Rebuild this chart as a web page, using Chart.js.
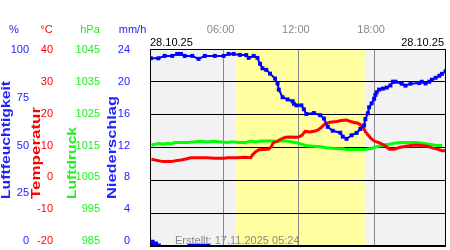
<!DOCTYPE html>
<html>
<head>
<meta charset="utf-8">
<script src="https://cdn.jsdelivr.net/npm/chart.js@4/dist/chart.umd.min.js"></script>
<style>
  body { margin: 0; background: #fff; }
  #wrap { width: 450px; height: 250px; }
</style>
</head>
<body>
<div id="wrap"><canvas id="wetter"></canvas></div>
<script>
// hours of the day (x) and readings
let humHours = [0.2, 0.8, 1.3, 1.9, 2.3, 2.6, 2.9, 3.5, 4.0, 4.5, 5.3, 6.0, 6.4, 6.8, 7.3, 7.8, 8.0, 8.4, 8.7, 8.9,
  9.1, 9.4, 9.7, 10.1, 10.3, 10.4, 10.7, 11.1, 11.5, 11.6, 11.8, 12.2, 12.4, 12.6, 13.2, 13.7, 14.0, 14.3, 14.7, 15.3,
  15.5, 15.8, 16.2, 16.6, 16.9, 17.2, 17.3, 17.5, 17.6, 17.8, 18.0, 18.1, 18.2, 18.4, 18.7, 19.0, 19.3, 19.5, 19.7, 20.2,
  20.5, 20.9, 21.6, 21.8, 22.1, 22.4, 22.6, 22.9, 23.2, 23.4, 23.7];
let humidity = [95.3, 95.3, 96.5, 96.5, 97.5, 97.5, 96.5, 96.5, 95.0, 96.5, 96.5, 96.5, 97.5, 97.5, 97.0, 96.9, 95.5, 96.5, 95.5, 92.5,
  90.2, 89.4, 87.5, 85.0, 82.5, 79.4, 75.5, 74.4, 73.5, 72.2, 71.4, 71.4, 69.4, 67.0, 67.5, 66.4, 64.7, 60.5, 58.5, 57.5,
  55.5, 54.4, 56.2, 57.4, 59.4, 61.2, 64.4, 67.4, 70.4, 72.4, 74.7, 76.7, 78.0, 79.4, 79.9, 80.4, 81.5, 83.4, 83.4, 82.4,
  81.4, 82.4, 82.7, 83.4, 82.5, 83.4, 84.4, 85.4, 86.4, 87.4, 88.7];

let tempHours = [0.24, 0.77, 1.16, 1.82, 2.21, 2.61, 3.0, 3.39, 3.92, 4.71, 5.24, 6.03, 6.29, 7.08, 7.77, 8.16, 8.29, 8.56, 8.82, 9.21,
  9.61, 9.82, 9.95, 10.26, 10.66, 10.93, 11.32, 11.72, 11.98, 12.24, 12.5, 12.9, 13.29, 13.56, 13.82, 14.08, 14.48, 15.0, 15.39, 15.79,
  15.92, 16.32, 16.71, 16.97, 17.16, 17.29, 17.5, 17.76, 18.03, 18.43, 18.82, 19.22, 19.61, 20.0, 20.53, 21.06, 21.58, 22.24, 22.63, 23.03,
  23.42, 23.68];
let temperature = [6.4, 6.0, 5.7, 5.7, 6.0, 6.2, 6.5, 6.9, 6.9, 6.9, 6.7, 6.7, 6.9, 6.9, 7.0, 6.9, 7.7, 8.7, 9.3, 9.4,
  9.5, 10.4, 11.4, 11.9, 12.7, 13.1, 13.2, 13.1, 13.2, 13.7, 14.9, 14.7, 15.0, 15.4, 16.2, 17.2, 17.7, 17.9, 18.2, 18.4,
  18.2, 17.7, 17.4, 16.7, 15.9, 14.9, 13.9, 12.7, 11.9, 11.4, 10.7, 9.5, 9.5, 10.0, 10.4, 10.7, 10.7, 10.4, 9.9, 9.5,
  9.0, 9.0];

let presHours = [0.24, 0.5, 0.9, 1.16, 1.56, 1.82, 2.08, 2.61, 3.13, 3.66, 4.18, 4.71, 5.24, 5.76, 6.29, 6.55, 6.82, 7.22, 7.77, 8.16,
  8.56, 8.95, 9.61, 10.0, 10.26, 10.53, 11.05, 11.45, 11.84, 12.24, 12.63, 13.16, 13.69, 14.21, 14.87, 15.53, 15.79, 16.58, 17.24, 17.76,
  18.16, 18.69, 19.22, 19.74, 20.27, 20.79, 21.32, 21.84, 22.37, 22.89, 23.42];
let pressure = [1015.7, 1016.0, 1016.2, 1016.0, 1016.3, 1016.1, 1016.5, 1016.5, 1016.5, 1016.7, 1016.9, 1016.7, 1016.9, 1016.7, 1016.5, 1016.7, 1016.7, 1016.5, 1016.5, 1017.0,
  1016.7, 1017.0, 1017.0, 1017.0, 1016.7, 1017.0, 1017.0, 1016.7, 1016.4, 1016.0, 1015.5, 1015.4, 1015.2, 1014.9, 1014.7, 1014.6, 1014.4, 1014.4, 1014.4, 1014.7,
  1015.2, 1015.7, 1016.0, 1016.4, 1016.5, 1016.5, 1016.5, 1016.3, 1016.0, 1015.7, 1015.6];

// rain: each entry holds from rainStart to rainEnd (hours)
let rainStart = [0.13, 0.5, 0.77, 3.13];
let rainEnd = [0.5, 0.77, 1.0, 4.95];
let rain = [0.75, 0.55, 0.3, 0.28];

// axis tick labels
let humTicks = [0, 25, 50, 75, 100];
let tempTicks = [-20, -10, 0, 10, 20, 30, 40];
let presTicks = [985, 995, 1005, 1015, 1025, 1035, 1045];
let rainTicks = [0, 4, 8, 12, 16, 20, 24];
let hourTicks = [6, 12, 18];

let dayLabel = "28.10.25";
let createdLabel = "Erstellt: 17.11.2025 05:24";
let sunrise = 7.0;
let sunset = 17.25;
let xMin = 0.13;
let xMax = 23.73;

const FONT = "Arial, 'Liberation Sans', sans-serif";
Chart.defaults.font.family = FONT;
Chart.defaults.font.size = 11;

function pts(xs, ys) {
    return xs.map(function (x, i) { return { x: x, y: ys[i] }; });
}

function steps(starts, ends, vals) {
    let out = [];
    starts.forEach(function (s, i) {
        out.push({ x: s, y: 0 }, { x: s, y: vals[i] }, { x: ends[i], y: vals[i] }, { x: ends[i], y: 0 });
    });
    return out;
}

function noPad(s) {
    s.paddingTop = 0; s.paddingBottom = 0; s.paddingLeft = 0; s.paddingRight = 0;
}

// label axes: tick text sits slightly inside the plot edges, like the original
function labelAxis(ticks, color, width, pad, weight) {
    let top = ticks[ticks.length - 1], bottom = ticks[0];
    let r = top - bottom;
    return {
        type: "linear", position: "left", weight: weight,
        min: top - 199 * r / 194, max: top + r / 194,
        grid: { display: false, drawTicks: false }, border: { display: false },
        ticks: { color: color, padding: pad, autoSkip: false, callback: function (v) { return String(v); } },
        afterBuildTicks: function (s) { s.ticks = ticks.map(function (v) { return { value: v }; }); },
        afterFit: function (s) { s.width = width; noPad(s); }
    };
}

const decor = {
    id: "decor",
    beforeDraw(chart) {
        const { ctx, chartArea: a, scales } = chart;
        ctx.save();
        ctx.fillStyle = "#f2f2f2";
        ctx.fillRect(a.left, a.top, a.width, a.height);
        let x0 = scales.x.getPixelForValue(sunrise), x1 = scales.x.getPixelForValue(sunset);
        ctx.fillStyle = "#ffffa0";
        ctx.fillRect(x0, a.top, x1 - x0, a.height);
        ctx.restore();
    },
    afterDraw(chart) {
        const { ctx, chartArea: a } = chart;
        ctx.save();
        ctx.strokeStyle = "#000";
        ctx.lineWidth = 1;
        ctx.strokeRect(a.left + 0.5, a.top + 0.5, a.width - 1, a.height - 1);

        ctx.font = "11px " + FONT;
        ctx.textBaseline = "middle";
        ctx.textAlign = "center";
        ctx.fillStyle = "#2222ff"; ctx.fillText("%", 14, 30);
        ctx.fillStyle = "#ff0000"; ctx.fillText("°C", 46.5, 30);
        ctx.fillStyle = "#22ee22"; ctx.fillText("hPa", 90, 30);
        ctx.fillStyle = "#2222ff"; ctx.fillText("mm/h", 132.5, 30);

        ctx.fillStyle = "#000";
        ctx.textAlign = "left"; ctx.fillText(dayLabel, a.left, 43);
        ctx.textAlign = "right"; ctx.fillText(dayLabel, a.right - 2, 43);

        ctx.fillStyle = "#888";
        ctx.textAlign = "left"; ctx.fillText(createdLabel, 175, 240.5);

        vText(ctx, "Luftfeuchtigkeit", 6, 199, "#2222ff", 118);
        vText(ctx, "Temperatur", 36, 199, "#ff0000", 92);
        vText(ctx, "Luftdruck", 72.5, 199, "#22ee22", 72);
        vText(ctx, "Niederschlag", 112.5, 199, "#2222ff", 103);
        ctx.restore();
    }
};

function vText(ctx, text, x, yBottom, color, len) {
    ctx.save();
    ctx.translate(x, yBottom);
    ctx.rotate(-Math.PI / 2);
    ctx.font = "bold 13px " + FONT;
    ctx.fillStyle = color;
    ctx.textAlign = "left";
    ctx.textBaseline = "middle";
    let w = ctx.measureText(text).width;
    ctx.scale(len / w, 1);
    ctx.fillText(text, 0, 0);
    ctx.restore();
}

let ctx1 = document.getElementById("wetter").getContext("2d");
new Chart(ctx1, {
    type: "line",
    data: {
        datasets: [{
            label: "Luftfeuchtigkeit",
            data: pts(humHours, humidity),
            yAxisID: "yH",
            borderColor: "#0000ff", backgroundColor: "#0000ff",
            borderWidth: 2, pointStyle: "rect", pointRadius: 2.8, pointBorderWidth: 0
        }, {
            label: "Temperatur",
            data: pts(tempHours, temperature),
            yAxisID: "yT",
            borderColor: "#ff0000", borderWidth: 3, pointRadius: 0
        }, {
            label: "Luftdruck",
            data: pts(presHours, pressure),
            yAxisID: "yP",
            borderColor: "#00ff00", borderWidth: 3, pointRadius: 0
        }, {
            label: "Niederschlag",
            data: steps(rainStart, rainEnd, rain),
            yAxisID: "yR",
            fill: "origin",
            borderWidth: 0, borderColor: "#0000ff", backgroundColor: "#0000ff", pointRadius: 0
        }]
    },
    options: {
        responsive: true,
        maintainAspectRatio: false,
        animation: false,
        layout: { padding: { top: 0, left: 0, right: 1, bottom: 1 } },
        plugins: { legend: { display: false }, tooltip: { enabled: false } },
        scales: {
            x: {
                type: "linear", position: "top", min: xMin, max: xMax,
                grid: { color: "#888", drawTicks: false }, border: { display: false },
                ticks: {
                    color: "#888", padding: 12, labelOffset: -3, maxRotation: 0, autoSkip: false,
                    callback: function (v) { return (v < 10 ? "0" : "") + v + ":00"; }
                },
                afterBuildTicks: function (s) { s.ticks = hourTicks.map(function (v) { return { value: v }; }); },
                afterFit: function (s) { s.height = 49; noPad(s); }
            },
            yH: { type: "linear", display: false, min: 0, max: 100 },
            yT: { type: "linear", display: false, min: -20, max: 40 },
            yP: { type: "linear", display: false, min: 985, max: 1045 },
            yR: {
                type: "linear", position: "left", weight: 0, min: 0, max: 24,
                grid: { color: "#000", drawTicks: false }, border: { display: false },
                ticks: { display: false, stepSize: 4 },
                afterFit: function (s) { s.width = 0; noPad(s); }
            },
            lH: labelAxis(humTicks, "#2222ff", 31, 2, 4),
            lT: labelAxis(tempTicks, "#ff0000", 24, 2, 3),
            lP: labelAxis(presTicks, "#22ee22", 47, 2, 2),
            lR: labelAxis(rainTicks, "#2222ff", 48, 20, 1)
        }
    },
    plugins: [decor]
});
</script>
</body>
</html>
